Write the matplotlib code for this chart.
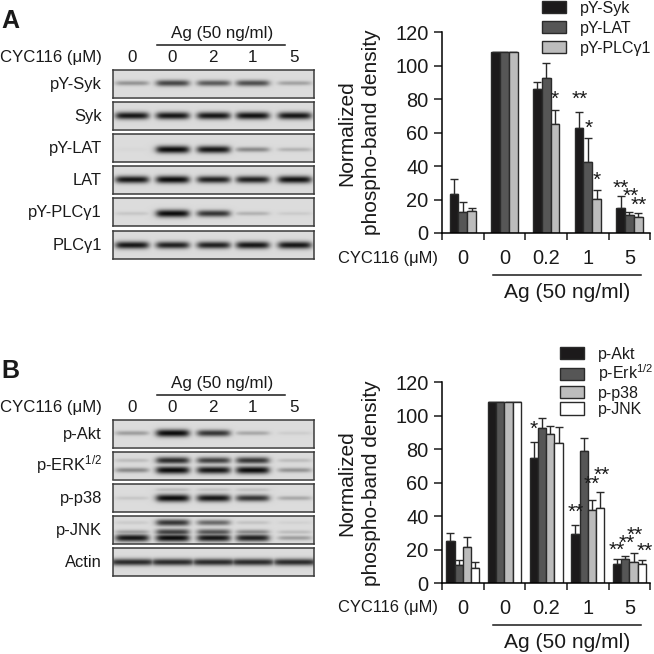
import matplotlib
matplotlib.use("Agg")
import matplotlib.pyplot as plt
from matplotlib.lines import Line2D
import numpy as np

plt.rcParams['font.family'] = ['Liberation Sans', 'DejaVu Sans']
plt.rcParams['mathtext.fontset'] = 'custom'
plt.rcParams['mathtext.rm'] = 'Liberation Sans'
plt.rcParams['mathtext.default'] = 'regular'

# bar chart data
groups = ['0', '0', '0.2', '1', '5']

a_names = ['pY-Syk', 'pY-LAT', 'pY-PLCγ1']
a_vals = [[23.5, 108, 86, 63, 15],
          [12.5, 108, 92.5, 42.5, 10.5],
          [13, 108, 65, 20.5, 9.5]]
a_tops = [[32, 108, 90, 72.5, 22],
          [18.5, 108, 101.5, 57, 12.5],
          [15, 108, 73.5, 25.5, 12]]
a_colors = ['#1c1a1b', '#565656', '#bcbcbc']
# group, bar, height, label
a_stars = [(2, 2, 82.6, '*'), (3, 0.1, 82.6, '**'), (3, 1.1, 64.9, '*'), (3, 2, 33.8, '*'),
           (4, 0, 29.5, '**'), (4, 1.1, 24.3, '**'), (4, 2.1, 18.9, '**')]

b_names = ['p-Akt', 'p-Erk$^{1/2}$', 'p-p38', 'p-JNK']
b_vals = [[25, 108, 75, 29.5, 11.5],
          [11, 108, 92.5, 79, 14.5],
          [21.5, 108, 89, 43.5, 12.5],
          [9, 108, 83.5, 45, 11.5]]
b_tops = [[30, 108, 84.5, 35, 14.5],
          [14, 108, 98.5, 87, 16.5],
          [27.5, 108, 94, 50, 18],
          [13, 108, 93.5, 54.5, 14]]
b_colors = ['#1c1a1b', '#565656', '#bcbcbc', '#ffffff']
b_stars = [(2, 0, 94.5, '*'), (3, 0, 44.8, '**'), (3, 2, 61.7, '**'), (3, 3.25, 66.7, '**'),
           (4, 0, 21.9, '**'), (4, 1.2, 26.3, '**'), (4, 2.2, 31.2, '**'), (4, 3.4, 21.3, '**')]

# blots: label, then (band height in strip, lane intensities)
lane_labels = ['0', '0', '2', '1', '5']
lane_x = [19, 59.5, 100.5, 139.5, 181.5]
a_blots = [('pY-Syk', [(0.5, [.35, .72, .62, .68, .28])]),
           ('Syk', [(0.52, [.95, .95, .95, .97, .95])]),
           ('pY-LAT', [(0.55, [.02, 1, .95, .4, .2])]),
           ('LAT', [(0.48, [.95, 1, .9, .9, .97])]),
           ('pY-PLCγ1', [(0.55, [.1, 1, .8, .2, .08])]),
           ('PLCγ1', [(0.5, [.95, .9, .9, .95, .95])])]
b_blots = [('p-Akt', [(0.5, [.3, 1, .8, .25, .07])]),
           ('p-ERK$^{1/2}$', [(0.33, [.15, .85, .75, .8, .15]), (0.68, [.4, 1, .95, 1, .35])]),
           ('p-p38', [(0.2, [0, .15, .12, .12, 0]), (0.5, [.1, 1, .95, .8, .25])]),
           ('p-JNK', [(0.23, [.08, .8, .55, .12, .05]), (0.57, [.3, .75, .65, .4, .15]),
                      (0.78, [.95, 1, .95, .9, .3])]),
           ('Actin', [(0.5, [.85, .85, .85, .85, .85])])]
strip_tops = [69.7, 101.7, 134, 166, 198, 230.7]

W, H = 654, 654
fig = plt.figure(figsize=(W / 100, H / 100), dpi=100)


def px_axes(x0, y0, x1, y1):
    return fig.add_axes([x0 / W, 1 - y1 / H, (x1 - x0) / W, (y1 - y0) / H])


def px_text(x, y, s, size, **kw):
    kw.setdefault('va', 'baseline')
    kw.setdefault('color', '#1a1a1a')
    fig.text(x / W, 1 - y / H, s, fontsize=size * 0.72, **kw)


def px_line(x0, x1, y):
    fig.add_artist(Line2D([x0 / W, x1 / W], [1 - y / H, 1 - y / H], color='#1a1a1a', lw=1.1))


def blot(y0, bands, half=16.0):
    ax = px_axes(112.7, y0, 313.7, y0 + 27.8)
    xx, yy = np.meshgrid(np.arange(0, 201, 0.5), np.arange(0, 27.8, 0.5))
    dark = np.zeros(xx.shape)
    for pos, levels in bands:
        for cx, lev in zip(lane_x, levels):
            # soft-edged band, thicker when stronger
            sx = 1 / (1 + np.exp((np.abs(xx - cx) - half) / 2.0))
            sy = np.exp(-((yy - pos * 27.8) / (1.6 + 2.2 * lev)) ** 2)
            dark = np.maximum(dark, lev * sx * sy)
    img = 0.86 - 0.82 * dark
    ax.imshow(np.clip(img, 0, 1), cmap='gray', vmin=0, vmax=1, aspect='auto',
              extent=(0, 201, 27.8, 0), interpolation='bilinear')
    ax.set_xticks([])
    ax.set_yticks([])
    for s in ax.spines.values():
        s.set_color('#3a3a3a')
        s.set_linewidth(1.1)


def bars(y_top, y_zero, names, vals, tops, colors, stars, legend_xy, legend_gap):
    ax = px_axes(442, y_top, 650.3, y_zero)
    n = len(names)
    w = 0.63 / n if n == 3 else 0.198
    for i in range(n):
        x = np.arange(5) + 0.5 + (i - (n - 1) / 2) * w
        v = np.array(vals[i], dtype=float)
        t = np.array(tops[i], dtype=float)
        ax.bar(x, v, w, color=colors[i], edgecolor='#2a2a2a', linewidth=1.0,
               label=names[i], zorder=2)
        ax.errorbar(x, v, yerr=[np.zeros(5), t - v], fmt='none', ecolor='#2a2a2a',
                    elinewidth=1.0, capsize=w * 41.67 * 0.72 * 0.45, capthick=1.0, zorder=1)
    for g, b, y, s in stars:
        x = g + 0.5 + (b - (n - 1) / 2) * w
        ax.text(x, y - 2.5, s, ha='center', va='center', fontsize=15, color='#1a1a1a', zorder=3)
    ax.set_xlim(0, 5)
    ax.set_ylim(0, 120)
    ax.set_yticks(range(0, 121, 20))
    ax.set_xticks(range(6))
    ax.set_xticklabels([])
    ax.set_xticks(np.arange(5) + 0.5, minor=True)
    ax.set_xticklabels(groups, minor=True, fontsize=14.4, color='#1a1a1a')
    ax.tick_params(axis='x', which='major', length=5, width=1.1, color='#1a1a1a')
    ax.tick_params(axis='x', which='minor', length=0, pad=11.5)
    ax.tick_params(axis='y', length=5.8, width=1.1, color='#1a1a1a', labelsize=14.4,
                   labelcolor='#1a1a1a', pad=4)
    ax.spines['top'].set_visible(False)
    ax.spines['right'].set_visible(False)
    ax.spines['left'].set_linewidth(1.1)
    ax.spines['bottom'].set_linewidth(1.1)
    ax.set_ylabel('Normalized\nphospho-band density', fontsize=15, color='#1a1a1a',
                  linespacing=1.4, ha='center')
    ax.yaxis.set_label_coords((381 - 442) / 208.3, 0.5)
    ax.patch.set_alpha(0)
    ax.legend(loc='upper left', bbox_to_anchor=(legend_xy[0] / W, 1 - legend_xy[1] / H),
              bbox_transform=fig.transFigure, frameon=False, borderpad=0, borderaxespad=0,
              fontsize=11.5, handlelength=1.5, handleheight=0.8, handletextpad=0.875,
              labelspacing=legend_gap, labelcolor='#1a1a1a')


# panel A
px_text(1, 28, 'A', 25, fontweight='bold')
px_text(221.7, 38, 'Ag (50 ng/ml)', 17, ha='center')
px_line(157, 285, 44.7)
px_text(0, 61.7, 'CYC116 (μM)', 16.8)
for x, s in zip(lane_x, lane_labels):
    px_text(112.7 + x, 62.5, s, 17, ha='center')
for top, (name, b) in zip(strip_tops, a_blots):
    blot(top, b)
    px_text(102, top + 19, name, 16.5, ha='right')

bars(32.3, 233, a_names, a_vals, a_tops, a_colors, a_stars, (542, 0.5), 0.32)
px_text(338, 263, 'CYC116 (μM)', 16.5)
px_line(492.7, 641, 275)
px_text(567, 298, 'Ag (50 ng/ml)', 21, ha='center')

# panel B
px_text(1, 378, 'B', 25, fontweight='bold')
px_text(221.7, 388, 'Ag (50 ng/ml)', 17, ha='center')
px_line(157, 285, 394.7)
px_text(0, 411.7, 'CYC116 (μM)', 16.8)
for x, s in zip(lane_x, lane_labels):
    px_text(112.7 + x, 412.5, s, 17, ha='center')
for top, (name, b) in zip(strip_tops, b_blots):
    blot(top + 350, b, half=21.0 if name == 'Actin' else 16.0)
    px_text(102, top + 350 + 19, name, 16.5, ha='right')

bars(382.3, 583.3, b_names, b_vals, b_tops, b_colors, b_stars, (560, 346.5), 0.08)
px_text(338, 611.7, 'CYC116 (μM)', 16.5)
px_line(492.7, 641, 625)
px_text(567, 648, 'Ag (50 ng/ml)', 21, ha='center')

fig.savefig('out.png', dpi=100)
